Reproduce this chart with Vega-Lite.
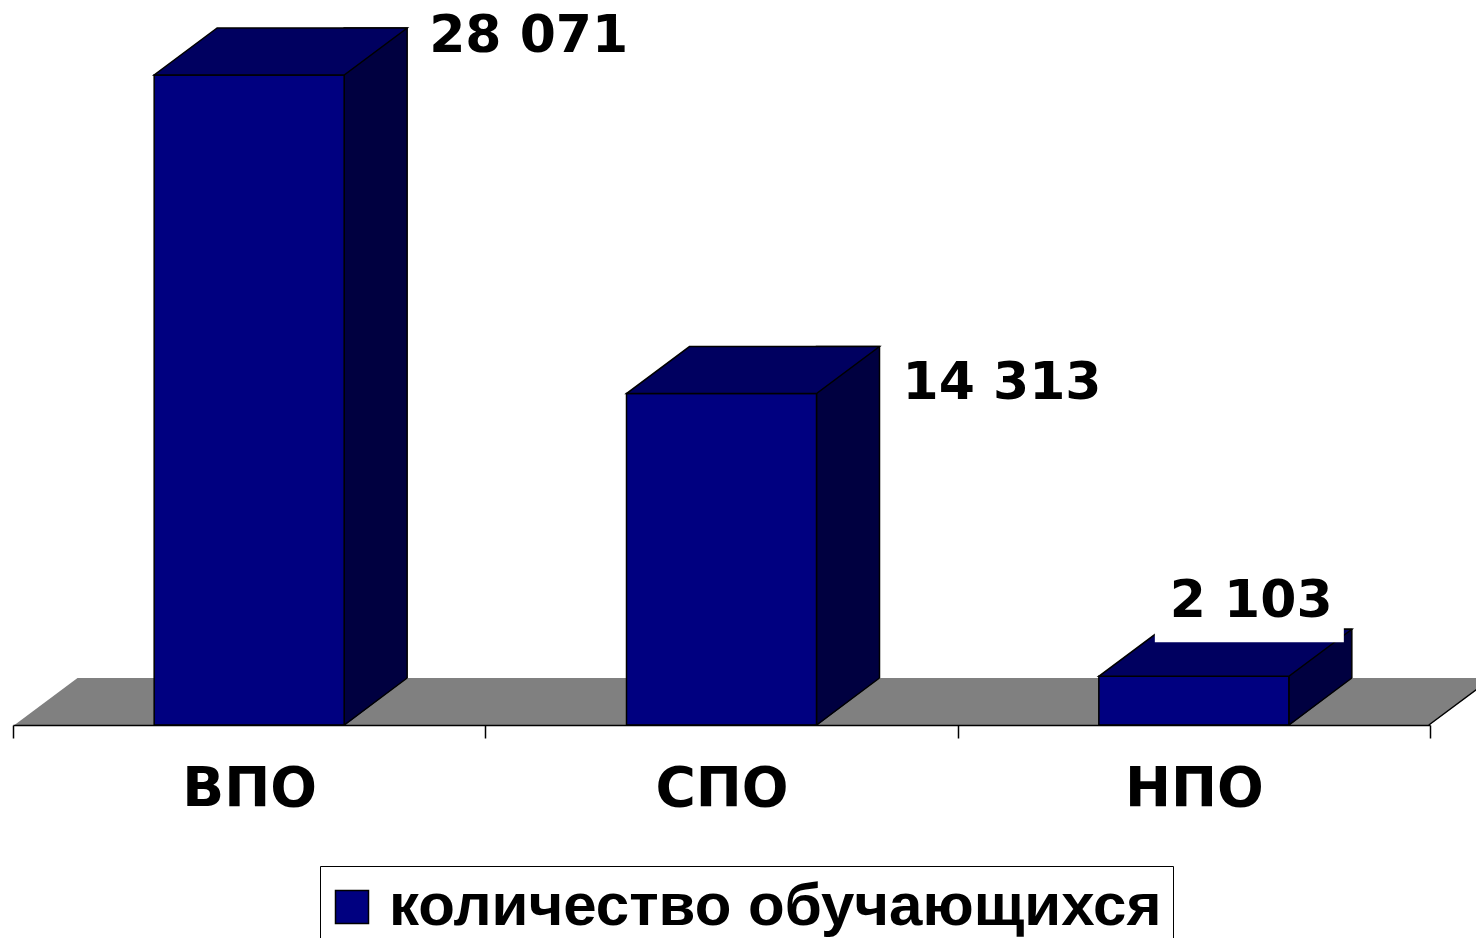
{
  "$schema": "https://vega.github.io/schema/vega-lite/v6.json",
  "width": 1417,
  "height": 725,
  "autosize": {"type": "none"},
  "padding": {"left": 13, "top": 0, "right": 46, "bottom": 213},
  "background": "white",
  "data": {
    "values": [
      {"category": "ВПО", "value": 28071, "label": "28 071"},
      {"category": "СПО", "value": 14313, "label": "14 313"},
      {"category": "НПО", "value": 2103, "label": "2 103"}
    ]
  },
  "encoding": {
    "x": {
      "field": "category",
      "type": "nominal",
      "sort": ["ВПО", "СПО", "НПО"],
      "scale": {"type": "band", "paddingInner": 0, "paddingOuter": 0},
      "axis": {
        "title": null,
        "labelAngle": 0,
        "labelFont": "DejaVu Sans",
        "labelFontWeight": "bold",
        "labelFontSize": 55,
        "labelColor": "black",
        "labelPadding": 24,
        "domainColor": "black",
        "domainWidth": 1.5,
        "tickColor": "black",
        "tickWidth": 1.5,
        "tickSize": 13,
        "tickBand": "extent",
        "grid": false,
        "zindex": 1
      }
    }
  },
  "layer": [
    {
      "transform": [{"filter": "datum.category === 'СПО'"}],
      "mark": {"type": "point", "shape": "M-0.707,0L0.708,0L0.771,-0.047L-0.644,-0.047Z", "size": 4000000, "filled": true, "fill": "#808080", "strokeWidth": 0, "opacity": 1},
      "encoding": {"y": {"datum": 0, "type": "quantitative", "scale": {"domain": [0, 31310], "nice": false, "zero": true}, "axis": null}}
    },
    {
      "transform": [{"filter": "datum.category === 'НПО'"}],
      "mark": {"type": "point", "shape": "M2.35,0L2.98,-0.47", "size": 40000, "filled": false, "stroke": "black", "strokeWidth": 1.5, "opacity": 1},
      "encoding": {"y": {"datum": 0, "type": "quantitative"}}
    },
    {
      "mark": {"type": "bar", "width": 63, "xOffset": 126.5, "yOffset": -47, "fill": "#000040", "stroke": "black", "strokeWidth": 1.5},
      "encoding": {"y": {"field": "value", "type": "quantitative"}, "y2": {"datum": 0}}
    },
    {
      "mark": {"type": "point", "shape": "M0.95,0.01L1.58,-0.47L1.61,-0.47L1.61,0.01Z", "size": 40000, "filled": true, "fill": "#808080", "strokeWidth": 0, "opacity": 1},
      "encoding": {"y": {"datum": 0, "type": "quantitative"}}
    },
    {
      "mark": {"type": "point", "shape": "M0.95,0L1.58,-0.47", "size": 40000, "filled": false, "stroke": "black", "strokeWidth": 1.5, "opacity": 1},
      "encoding": {"y": {"datum": 0, "type": "quantitative"}}
    },
    {
      "mark": {"type": "bar", "width": 190, "stroke": "black", "strokeWidth": 1.5},
      "encoding": {
        "y": {"field": "value", "type": "quantitative"},
        "color": {
          "datum": "количество обучающихся",
          "type": "nominal",
          "scale": {"range": ["#000080"]},
          "legend": {
            "title": null,
            "orient": "none",
            "legendX": 307,
            "legendY": 866,
            "fillColor": "white",
            "strokeColor": "black",
            "padding": 11,
            "symbolOffset": -9,
            "symbolType": "square",
            "symbolSize": 1089,
            "symbolStrokeColor": "black",
            "symbolStrokeWidth": 1.5,
            "symbolOpacity": 1,
            "labelFont": "Liberation Sans",
            "labelFontWeight": "bold",
            "labelFontSize": 60,
            "labelColor": "black",
            "labelLimit": 2000,
            "labelOffset": 7
          }
        }
      }
    },
    {
      "mark": {"type": "point", "shape": "M-0.95,0L0.95,0L1.58,-0.47L-0.32,-0.47Z", "size": 40000, "filled": true, "fill": "#000060", "stroke": "black", "strokeWidth": 1.5, "opacity": 1},
      "encoding": {"y": {"field": "value", "type": "quantitative"}}
    },
    {
      "transform": [{"filter": "datum.category === 'НПО'"}],
      "mark": {"type": "point", "shape": "M-0.39,-1.06L1.5,-1.06L1.5,-0.34L-0.39,-0.34Z", "size": 40000, "filled": true, "fill": "white", "strokeWidth": 0, "opacity": 1},
      "encoding": {"y": {"field": "value", "type": "quantitative"}}
    },
    {
      "transform": [{"filter": "datum.category === 'ВПО'"}],
      "mark": {"type": "text", "align": "left", "baseline": "alphabetic", "dx": 180, "dy": -23, "font": "DejaVu Sans", "fontWeight": "bold", "fontSize": 52, "fill": "black"},
      "encoding": {"y": {"field": "value", "type": "quantitative"}, "text": {"field": "label"}}
    },
    {
      "transform": [{"filter": "datum.category === 'СПО'"}],
      "mark": {"type": "text", "align": "left", "baseline": "alphabetic", "dx": 181, "dy": 5, "font": "DejaVu Sans", "fontWeight": "bold", "fontSize": 52, "fill": "black"},
      "encoding": {"y": {"field": "value", "type": "quantitative"}, "text": {"field": "label"}}
    },
    {
      "transform": [{"filter": "datum.category === 'НПО'"}],
      "mark": {"type": "text", "align": "left", "baseline": "alphabetic", "dx": -24, "dy": -59, "font": "DejaVu Sans", "fontWeight": "bold", "fontSize": 52, "fill": "black"},
      "encoding": {"y": {"field": "value", "type": "quantitative"}, "text": {"field": "label"}}
    }
  ],
  "config": {
    "view": {"stroke": null}
  }
}
